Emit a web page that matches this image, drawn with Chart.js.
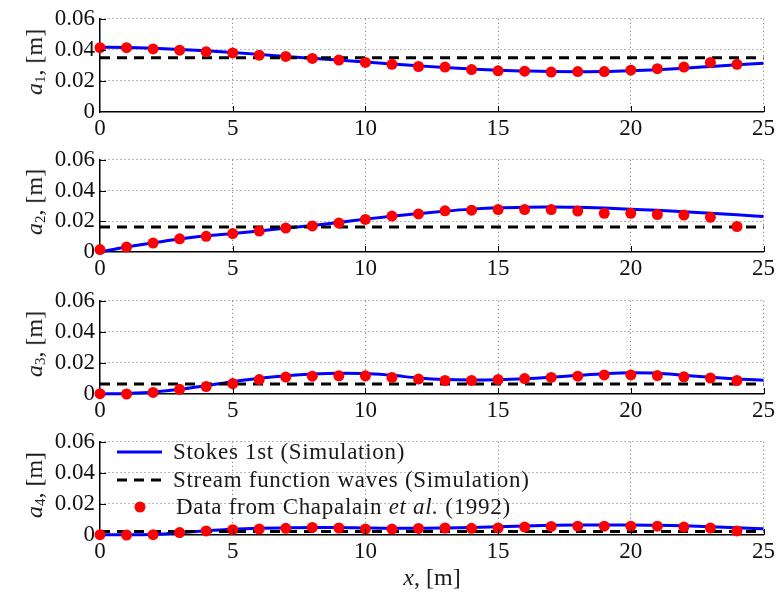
<!DOCTYPE html>
<html><head><meta charset="utf-8">
<script src="https://cdn.jsdelivr.net/npm/chart.js@4.4.1/dist/chart.umd.min.js"></script>
<style>
html,body{margin:0;padding:0;background:#fff;}
#wrap{position:relative;width:778px;height:598px;overflow:hidden;font-family:"Liberation Serif",serif;color:#1a1a1a;}
canvas{position:absolute;left:0;}
.ylab{position:absolute;left:35px;transform:translate(-50%,-50%) rotate(-90deg);white-space:nowrap;font-size:24px;}
.ylab i{font-style:italic;}
.ylab sub{font-size:15px;vertical-align:-3px;}
.xlab{position:absolute;left:432px;top:577px;transform:translate(-50%,-50%);white-space:nowrap;font-size:24px;}
.leg{position:absolute;left:110px;white-space:nowrap;font-size:23px;letter-spacing:0.7px;height:26px;line-height:26px;}
.leg svg{position:absolute;left:0;top:0;}
.leg span{position:absolute;top:0;}
</style>
</head><body>
<div id="wrap"></div>
<script>
// ---------- data ----------
const xPoints = [0,1,2,3,4,5,6,7,8,9,10,11,12,13,14,15,16,17,18,19,20,21,22,23,24];
const a1Data = [0.0414,0.0414,0.0406,0.0398,0.0388,0.0380,0.0366,0.0358,0.0345,0.0334,0.0319,0.0307,0.0293,0.0289,0.0273,0.0265,0.0263,0.0257,0.0260,0.0260,0.0269,0.0279,0.0289,0.0319,0.0307];
const a2Data = [0.0016,0.0032,0.0058,0.0086,0.0102,0.0120,0.0136,0.0156,0.0170,0.0188,0.0212,0.0234,0.0248,0.0268,0.0272,0.0276,0.0276,0.0276,0.0266,0.0252,0.0252,0.0244,0.0240,0.0226,0.0166];
const a3Data = [0.0002,0.0000,0.0010,0.0030,0.0048,0.0067,0.0093,0.0109,0.0115,0.0117,0.0117,0.0107,0.0096,0.0087,0.0087,0.0093,0.0099,0.0107,0.0115,0.0123,0.0123,0.0119,0.0111,0.0103,0.0087];
const a4Data = [0.0002,0.0000,0.0002,0.0016,0.0026,0.0034,0.0038,0.0043,0.0049,0.0045,0.0038,0.0038,0.0042,0.0045,0.0043,0.0045,0.0051,0.0055,0.0057,0.0057,0.0057,0.0057,0.0051,0.0045,0.0026];

const xSim = [0,1,2,3,4,5,6,7,8,9,10,11,12,13,14,15,16,17,18,19,20,21,22,23,24,25];
const a1Stokes = [0.0417,0.0416,0.0411,0.0403,0.0394,0.0383,0.0371,0.0358,0.0346,0.0334,0.0322,0.0309,0.0297,0.0286,0.0277,0.0269,0.0264,0.0260,0.0259,0.0260,0.0265,0.0272,0.0282,0.0293,0.0304,0.0314];
const a2Stokes = [0.0000,0.0032,0.0060,0.0085,0.0105,0.0120,0.0137,0.0155,0.0173,0.0192,0.0214,0.0233,0.0250,0.0266,0.0279,0.0288,0.0292,0.0293,0.0291,0.0286,0.0278,0.0271,0.0262,0.0252,0.0242,0.0231];
const a3Stokes = [0.0000,0.0004,0.0012,0.0030,0.0053,0.0079,0.0101,0.0117,0.0128,0.0133,0.0132,0.0120,0.0103,0.0093,0.0090,0.0092,0.0098,0.0108,0.0120,0.0131,0.0137,0.0134,0.0121,0.0108,0.0097,0.0089];
const a4Stokes = [0.0002,0.0001,0.0004,0.0014,0.0027,0.0037,0.0043,0.0046,0.0048,0.0048,0.0045,0.0043,0.0043,0.0045,0.0048,0.0053,0.0058,0.0062,0.0064,0.0065,0.0065,0.0063,0.0059,0.0053,0.0046,0.0040];

const streamLevels = [0.0350, 0.0162, 0.0064, 0.0022];
const xRange = [0, 25];

const xTicks = [0,5,10,15,20,25];
const xTickLabels = ['0','5','10','15','20','25'];
const yTicks = [0,0.02,0.04,0.06];
const yTickLabels = ['0','0.02','0.04','0.06'];

const seriesNames = ['Stokes 1st (Simulation)','Stream function waves (Simulation)','Data from Chapalain '];
const yNames = ['1','2','3','4'];

// ---------- layout ----------
const panelTop = [11,152,293,434];
const panelBottom = [112,252,394,535];
const padTop = 11, axisH = 32;

const wrap = document.getElementById('wrap');
const pointsSets = [a1Data,a2Data,a3Data,a4Data];
const stokesSets = [a1Stokes,a2Stokes,a3Stokes,a4Stokes];

const inwardTicks = {
  id:'inwardTicks',
  afterDatasetsDraw(chart){
    const {ctx, chartArea:a, scales:{x,y}} = chart;
    ctx.save();
    ctx.strokeStyle='#000'; ctx.lineWidth=1;
    ctx.beginPath();
    xTicks.forEach(v=>{ if(v===xRange[0]) return; const px=Math.round(x.getPixelForValue(v))+0.5; ctx.moveTo(px,a.bottom); ctx.lineTo(px,a.bottom-6);});
    yTicks.forEach(v=>{ if(v===0) return; const py=Math.round(y.getPixelForValue(v))+0.5; ctx.moveTo(a.left,py); ctx.lineTo(a.left+6,py);});
    ctx.stroke();
    ctx.restore();
  }
};

for(let i=0;i<4;i++){
  const h = panelBottom[i]-panelTop[i];
  const cv = document.createElement('canvas');
  cv.width=778; cv.height=padTop+h+axisH;
  cv.style.top=(panelTop[i]-padTop)+'px';
  wrap.appendChild(cv);
  new Chart(cv,{
    type:'scatter',
    data:{datasets:[
      {label:seriesNames[2], data:xPoints.map((x,k)=>({x,y:pointsSets[i][k]})), showLine:false,
       pointRadius:5.5, pointBackgroundColor:'#ff0000', pointBorderColor:'#ff0000', pointBorderWidth:0, clip:false},
      {label:seriesNames[1], data:xRange.map(x=>({x,y:streamLevels[i]})), showLine:true, pointRadius:0,
       borderColor:'#000', borderWidth:3, borderDash:[10,7], clip:false},
      {label:seriesNames[0], data:xSim.map((x,k)=>({x,y:stokesSets[i][k]})), showLine:true, pointRadius:0,
       borderColor:'#0000ff', borderWidth:3, cubicInterpolationMode:'monotone', clip:false}
    ]},
    options:{
      responsive:false, animation:false, devicePixelRatio:1,
      layout:{padding:{top:padTop,right:13,left:0,bottom:0}},
      plugins:{legend:{display:false},tooltip:{enabled:false}},
      scales:{
        x:{type:'linear',min:xRange[0],max:xRange[1],
          afterBuildTicks:s=>{s.ticks=xTicks.map(v=>({value:v}));},
          afterFit:s=>{s.height=axisH;},
          ticks:{callback:(v,k)=>xTickLabels[k],font:{family:'Liberation Serif',size:23},color:'#111',padding:3,maxRotation:0,autoSkip:false},
          grid:{color:c=>(c.tick&&c.tick.value===xRange[0])?'rgba(0,0,0,0)':'rgba(0,0,0,0.55)',lineWidth:1,drawTicks:false},
          border:{display:true,color:'#000',width:1.5,dash:[1,3]}
        },
        y:{type:'linear',min:0,max:0.06,
          afterBuildTicks:s=>{s.ticks=yTicks.map(v=>({value:v}));},
          afterFit:s=>{s.width=100;},
          ticks:{callback:(v,k)=>yTickLabels[k],font:{family:'Liberation Serif',size:23},color:'#111',padding:5,autoSkip:false},
          grid:{color:c=>(c.tick&&c.tick.value===0)?'rgba(0,0,0,0)':'rgba(0,0,0,0.55)',lineWidth:1,drawTicks:false},
          border:{display:true,color:'#000',width:1.5,dash:[1,3]}
        }
      }
    },
    plugins:[inwardTicks]
  });
  const yl=document.createElement('div');
  yl.className='ylab';
  yl.style.top=((panelTop[i]+panelBottom[i])/2)+'px';
  yl.innerHTML='<i>a</i><sub>'+yNames[i]+'</sub>, [m]';
  wrap.appendChild(yl);
}

const xl=document.createElement('div');
xl.className='xlab';
xl.innerHTML='<i>x</i>, [m]';
wrap.appendChild(xl);

// legend (inside 4th panel)
const legRows=[
  {y:452, sample:'<line x1="7" y1="13" x2="52" y2="13" stroke="#0000ff" stroke-width="3"/>', text:seriesNames[0], tx:63},
  {y:480, sample:'<line x1="7" y1="13" x2="52" y2="13" stroke="#000" stroke-width="3" stroke-dasharray="10 7"/>', text:seriesNames[1], tx:63},
  {y:507, sample:'<circle cx="30" cy="13" r="5.5" fill="#ff0000"/>', text:seriesNames[2]+'<i>et al.</i> (1992)', tx:66}
];
legRows.forEach(r=>{
  const d=document.createElement('div');
  d.className='leg';
  d.style.top=(r.y-13)+'px';
  d.innerHTML='<svg width="60" height="26">'+r.sample+'</svg><span style="left:'+r.tx+'px">'+r.text+'</span>';
  wrap.appendChild(d);
});
</script>
</body></html>
